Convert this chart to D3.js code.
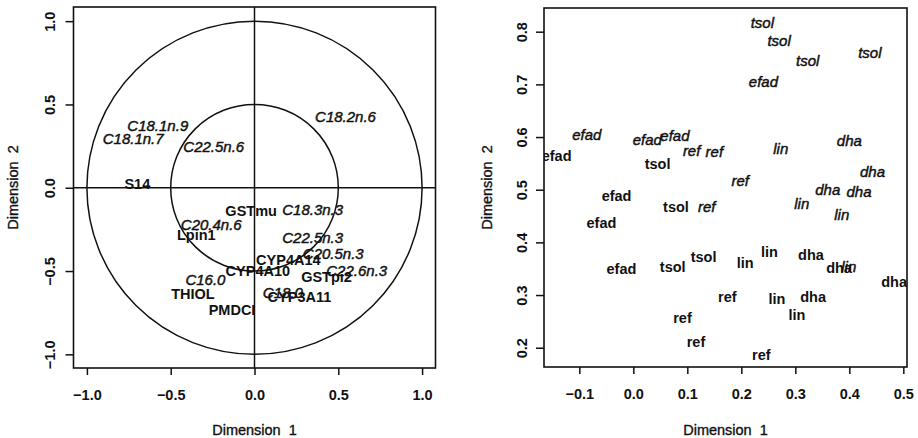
<!DOCTYPE html>
<html>
<head>
<meta charset="utf-8">
<script src="https://cdn.jsdelivr.net/npm/d3@7"></script>
<style>
  html, body { margin: 0; padding: 0; background: #fff; }
  svg { display: block; }
  text { font-family: "Liberation Sans", Arial, Helvetica, sans-serif; fill: #111; }
</style>
</head>
<body>
<svg id="chart" width="918" height="438"></svg>
<script>
// ---- Variables panel: correlation circle (genes bold, fatty acids italic) ----
const varLabels = ["C18.2n.6", "C18.1n.9", "C18.1n.7", "C22.5n.6", "S14", "GSTmu", "C18.3n.3",
  "C20.4n.6", "Lpin1", "C22.5n.3", "C20.5n.3", "CYP4A14", "CYP4A10", "C22.6n.3", "GSTpi2",
  "C16.0", "THIOL", "C18.0", "CYP3A11", "PMDCI"];
const varDim1 = [0.543, -0.577, -0.724, -0.243, -0.699, -0.020, 0.347,
  -0.258, -0.347, 0.347, 0.470, 0.202, 0.020, 0.610, 0.430,
  -0.293, -0.367, 0.169, 0.268, -0.134];
const varDim2 = [0.426, 0.372, 0.297, 0.246, 0.022, -0.138, -0.134,
  -0.224, -0.284, -0.298, -0.398, -0.434, -0.500, -0.498, -0.535,
  -0.554, -0.634, -0.632, -0.655, -0.735];
const varItalic = [1, 1, 1, 1, 0, 0, 1,
  1, 0, 1, 1, 0, 0, 1, 0,
  1, 0, 1, 0, 0];
const circleRadii = [1, 0.5];
const varTicks = [-1, -0.5, 0, 0.5, 1];
const varTickLabels = ["\u22121.0", "\u22120.5", "0.0", "0.5", "1.0"];

// ---- Individuals panel: diet labels (bold and italic genotypes) ----
const indLabels = ["tsol", "tsol", "tsol", "tsol", "efad", "efad", "efad", "efad",
  "ref", "ref", "ref", "ref", "lin", "lin", "lin", "lin", "dha", "dha", "dha", "dha",
  "efad", "efad", "efad", "efad", "tsol", "tsol", "tsol", "tsol",
  "ref", "ref", "ref", "ref", "lin", "lin", "lin", "lin", "dha", "dha", "dha", "dha"];
const indDim1 = [0.239, 0.270, 0.323, 0.438, 0.241, -0.086, 0.026, 0.077,
  0.108, 0.150, 0.198, 0.136, 0.273, 0.312, 0.386, 0.399, 0.400, 0.443, 0.360, 0.418,
  -0.142, -0.031, -0.059, -0.022, 0.045, 0.079, 0.073, 0.130,
  0.174, 0.091, 0.116, 0.237, 0.207, 0.252, 0.266, 0.303, 0.329, 0.381, 0.483, 0.333];
const indDim2 = [0.817, 0.784, 0.745, 0.761, 0.705, 0.604, 0.596, 0.602,
  0.574, 0.572, 0.518, 0.468, 0.579, 0.474, 0.452, 0.354, 0.594, 0.534, 0.500, 0.496,
  0.565, 0.488, 0.438, 0.349, 0.550, 0.467, 0.354, 0.372,
  0.297, 0.256, 0.211, 0.186, 0.361, 0.382, 0.292, 0.263, 0.376, 0.352, 0.325, 0.296];
const indItalic = [1, 1, 1, 1, 1, 1, 1, 1, 1, 1, 1, 1, 1, 1, 1, 1, 1, 1, 1, 1,
  0, 0, 0, 0, 0, 0, 0, 0, 0, 0, 0, 0, 0, 0, 0, 0, 0, 0, 0, 0];
const indXTicks = [-0.1, 0, 0.1, 0.2, 0.3, 0.4, 0.5];
const indXTickLabels = ["\u22120.1", "0.0", "0.1", "0.2", "0.3", "0.4", "0.5"];
const indYTicks = [0.2, 0.3, 0.4, 0.5, 0.6, 0.7, 0.8];
const indYTickLabels = ["0.2", "0.3", "0.4", "0.5", "0.6", "0.7", "0.8"];

const xTitle = "Dimension  1";
const yTitle = "Dimension  2";

const svg = d3.select("#chart");
const FS = 14.5;

function panel(cfg) {
  const x = d3.scaleLinear().domain(cfg.xDomain).range([cfg.left, cfg.right]);
  const y = d3.scaleLinear().domain(cfg.yDomain).range([cfg.bottom, cfg.top]);
  const g = svg.append("g");

  const clipId = "clip" + cfg.id;
  svg.append("clipPath").attr("id", clipId).append("rect")
    .attr("x", cfg.left).attr("y", cfg.top)
    .attr("width", cfg.right - cfg.left).attr("height", cfg.bottom - cfg.top);

  // bottom axis
  const gx = g.append("g").attr("transform", `translate(0,${cfg.bottom})`)
    .call(d3.axisBottom(x).tickValues(cfg.xTicks)
      .tickFormat((d, i) => cfg.xTickLabels[i]).tickSize(7).tickSizeOuter(0).tickPadding(14.5));
  gx.select(".domain").remove();
  gx.selectAll("line").attr("stroke", "#111").attr("stroke-width", 1.5);
  gx.selectAll("text").attr("font-size", FS).attr("font-weight", "bold")
    .attr("font-family", "Liberation Sans, Arial, sans-serif").attr("fill", "#111");

  // left axis, labels parallel to the axis
  const gy = g.append("g").attr("transform", `translate(${cfg.left},0)`)
    .call(d3.axisLeft(y).tickValues(cfg.yTicks)
      .tickFormat((d, i) => cfg.yTickLabels[i]).tickSize(8).tickSizeOuter(0));
  gy.select(".domain").remove();
  gy.selectAll("line").attr("stroke", "#111").attr("stroke-width", 1.5);
  gy.selectAll("text").attr("font-size", FS).attr("font-weight", "bold")
    .attr("font-family", "Liberation Sans, Arial, sans-serif").attr("fill", "#111")
    .attr("transform", "rotate(-90)").attr("x", 0).attr("y", -(cfg.left - cfg.yLabelX))
    .attr("dy", 0).attr("text-anchor", "middle");

  // axis titles
  g.append("text").attr("x", (cfg.left + cfg.right) / 2).attr("y", 435)
    .attr("text-anchor", "middle").attr("font-size", FS).style("white-space", "pre")
    .attr("stroke", "#111").attr("stroke-width", 0.35)
    .text(xTitle);
  const cy = (cfg.top + cfg.bottom) / 2;
  g.append("text").attr("transform", `translate(${cfg.yTitleX},${cy}) rotate(-90)`)
    .attr("text-anchor", "middle").attr("font-size", FS).style("white-space", "pre")
    .attr("stroke", "#111").attr("stroke-width", 0.35)
    .text(yTitle);

  const inner = g.append("g").attr("clip-path", `url(#${clipId})`);
  cfg.draw(inner, x, y);

  // frame
  g.append("rect").attr("x", cfg.left).attr("y", cfg.top)
    .attr("width", cfg.right - cfg.left).attr("height", cfg.bottom - cfg.top)
    .attr("fill", "none").attr("stroke", "#111").attr("stroke-width", 1.6);
}

function drawLabels(sel, x, y, names, d1, d2, ital) {
  sel.selectAll("text.lab").data(names).join("text")
    .attr("class", "lab")
    .attr("x", (d, i) => x(d1[i]))
    .attr("y", (d, i) => y(d2[i]))
    .attr("dy", "0.36em")
    .attr("text-anchor", "middle")
    .attr("font-size", (d, i) => ital[i] ? 15 : FS)
    .attr("font-style", (d, i) => ital[i] ? "italic" : "normal")
    .attr("font-weight", (d, i) => ital[i] ? "normal" : "bold")
    .attr("stroke", (d, i) => ital[i] ? "#111" : "none")
    .attr("stroke-width", 0.45)
    .text(d => d);
}

panel({
  id: "Var", left: 73.5, right: 435.5, top: 7, bottom: 368,
  xDomain: [-1.08, 1.08], yDomain: [-1.082, 1.085],
  xTicks: varTicks, xTickLabels: varTickLabels,
  yTicks: varTicks, yTickLabels: varTickLabels,
  yLabelX: 55, yTitleX: 18,
  draw(sel, x, y) {
    sel.append("line").attr("x1", x.range()[0]).attr("x2", x.range()[1])
      .attr("y1", y(0)).attr("y2", y(0)).attr("stroke", "#111").attr("stroke-width", 1.5);
    sel.append("line").attr("x1", x(0)).attr("x2", x(0))
      .attr("y1", y.range()[0]).attr("y2", y.range()[1]).attr("stroke", "#111").attr("stroke-width", 1.5);
    sel.selectAll("ellipse").data(circleRadii).join("ellipse")
      .attr("cx", x(0)).attr("cy", y(0))
      .attr("rx", r => x(r) - x(0)).attr("ry", r => y(0) - y(r))
      .attr("fill", "none").attr("stroke", "#111").attr("stroke-width", 1.5);
    drawLabels(sel, x, y, varLabels, varDim1, varDim2, varItalic);
  }
});

panel({
  id: "Ind", left: 544, right: 907, top: 8, bottom: 367,
  xDomain: [-0.1654, 0.5068], yDomain: [0.1634, 0.845],
  xTicks: indXTicks, xTickLabels: indXTickLabels,
  yTicks: indYTicks, yTickLabels: indYTickLabels,
  yLabelX: 527, yTitleX: 492,
  draw(sel, x, y) {
    drawLabels(sel, x, y, indLabels, indDim1, indDim2, indItalic);
  }
});
</script>
</body>
</html>
